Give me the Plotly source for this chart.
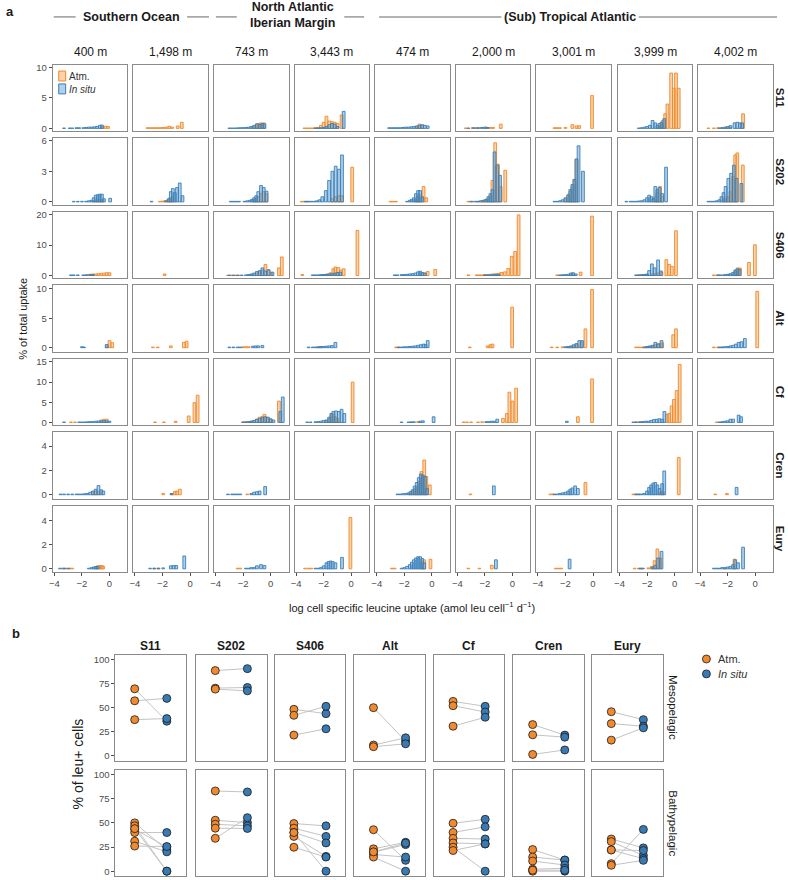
import plotly.graph_objects as go

W, H = 788, 880
FONT = "Liberation Sans, Arial, sans-serif"

DEPTHS = ["400 m", "1,498 m", "743 m", "3,443 m", "474 m", "2,000 m", "3,001 m", "3,999 m", "4,002 m"]
GROUPS = ["S11", "S202", "S406", "Alt", "Cf", "Cren", "Eury"]
REGIONS = ["Southern Ocean", "North Atlantic<br>Iberian Margin", "(Sub) Tropical Atlantic"]
ZONES = ["Mesopelagic", "Bathypelagic"]

# ---- panel a: histograms, [bin centre (log uptake), % of total uptake] per depth column
S11_ATM = [
    [[-0.5, 0.3], [-0.3, 0.35], [-0.1, 0.3]],
    [[-3.1, 0.1], [-2.9, 0.1], [-2.7, 0.1], [-2.5, 0.1], [-2.3, 0.1], [-2.1, 0.12], [-1.9, 0.15], [-1.7, 0.2], [-1.5, 0.35], [-1.3, 0.2], [-0.9, 0.4], [-0.6, 1.0]],
    [[-1.3, 0.3], [-1.1, 0.4], [-0.9, 0.8], [-0.7, 0.9], [-0.5, 0.9]],
    [[-3.4, 0.05], [-3.2, 0.05], [-3.0, 0.05], [-2.8, 0.05], [-2.6, 0.1], [-2.4, 0.15], [-2.2, 0.5], [-2.0, 1.0], [-1.8, 2.0], [-1.6, 1.2], [-1.4, 1.1], [-1.2, 1.0], [-1.0, 0.8], [-0.7, 2.2]],
    [[-1.1, 0.3], [-0.9, 0.7], [-0.7, 0.5]],
    [[-3.4, 0.05], [-2.9, 0.1], [-2.6, 0.1], [-2.3, 0.15], [-1.9, 0.2], [-1.6, 0.15], [-1.4, 0.15], [-0.85, 0.7]],
    [[-2.8, 0.1], [-2.6, 0.1], [-2.4, 0.1], [-2.0, 0.15], [-1.5, 0.6], [-1.2, 0.4], [-1.0, 0.45], [-0.07, 5.4]],
    [[-1.1, 0.3], [-0.95, 0.6], [-0.85, 1.3], [-0.68, 2.4], [-0.52, 4.0], [-0.25, 9.1], [-0.05, 6.6], [0.1, 9.1], [0.3, 6.6]],
    [[-3.4, 0.05], [-3.0, 0.05], [-2.7, 0.1], [-2.4, 0.1], [-2.1, 0.15], [-1.8, 0.2], [-0.88, 2.4]],
]
S11_INSITU = [
    [[-3.3, 0.05], [-2.9, 0.05], [-2.7, 0.05], [-2.4, 0.1], [-2.2, 0.1], [-1.9, 0.1], [-1.7, 0.15], [-1.5, 0.2], [-1.3, 0.2], [-1.1, 0.25], [-0.9, 0.3], [-0.7, 0.5], [-0.55, 0.55]],
    [],
    [[-3.0, 0.05], [-2.8, 0.05], [-2.6, 0.05], [-2.4, 0.08], [-2.2, 0.1], [-2.0, 0.12], [-1.8, 0.15], [-1.6, 0.2], [-1.4, 0.3], [-1.2, 0.5], [-1.0, 0.75], [-0.8, 0.65], [-0.6, 0.8], [-0.45, 0.75]],
    [[-2.6, 0.05], [-2.4, 0.05], [-2.2, 0.1], [-2.0, 0.15], [-1.8, 0.3], [-1.6, 0.6], [-1.4, 0.8], [-1.2, 0.7], [-1.0, 0.3], [-0.55, 2.8]],
    [[-3.1, 0.1], [-2.9, 0.1], [-2.7, 0.1], [-2.5, 0.1], [-2.3, 0.1], [-2.1, 0.15], [-1.9, 0.2], [-1.7, 0.2], [-1.5, 0.25], [-1.3, 0.3], [-1.1, 0.4], [-0.9, 0.5], [-0.7, 0.6], [-0.5, 0.5], [-0.3, 0.4]],
    [[-3.2, 0.05], [-2.8, 0.1], [-2.5, 0.1], [-2.2, 0.15], [-2.0, 0.2], [-1.8, 0.15]],
    [],
    [[-2.6, 0.05], [-2.4, 0.1], [-2.2, 0.2], [-2.0, 0.3], [-1.8, 0.5], [-1.6, 1.3], [-1.4, 0.9], [-1.25, 0.5], [-1.1, 0.8], [-0.95, 1.0], [-0.75, 1.6]],
    [[-2.6, 0.05], [-2.4, 0.1], [-2.2, 0.2], [-2.0, 0.3], [-1.8, 0.45], [-1.5, 0.9], [-1.3, 1.0], [-1.1, 0.9], [-0.95, 0.9]],
]
S202_ATM = [
    [[-1.1, 0.1], [-0.9, 0.2], [-0.7, 0.2], [-0.5, 0.15]],
    [[-2.2, 0.05], [-2.0, 0.08], [-1.8, 0.1], [-1.6, 0.2], [-1.45, 0.4], [-1.3, 0.45]],
    [[-1.2, 0.2], [-1.05, 0.3], [-0.9, 0.5], [-0.7, 0.8], [-0.5, 1.0], [-0.3, 0.8]],
    [[-3.6, 0.05], [-3.4, 0.05], [-3.2, 0.05], [-1.4, 0.3], [-1.15, 0.5], [-0.9, 0.6], [-0.67, 0.6], [0.07, 3.4]],
    [[-3.0, 0.05], [-2.8, 0.05], [-2.6, 0.05], [-1.15, 0.2], [-1.0, 0.5], [-0.85, 0.7], [-0.6, 1.5], [-0.4, 0.4]],
    [[-3.2, 0.05], [-2.9, 0.05], [-2.5, 0.05], [-2.2, 0.1], [-2.0, 0.2], [-1.8, 0.3], [-1.6, 0.6], [-1.45, 2.1], [-1.25, 5.8], [-1.05, 3.7], [-0.85, 1.5], [-0.52, 3.1]],
    [[-2.0, 0.3], [-1.8, 0.6], [-1.65, 1.0], [-1.5, 1.5], [-1.35, 2.2], [-1.2, 4.2]],
    [[-1.4, 0.5], [-1.25, 0.9], [-1.05, 1.5], [-0.9, 0.5]],
    [[-2.2, 0.3], [-2.0, 0.5], [-1.8, 1.0], [-1.6, 2.5], [-1.45, 4.6], [-1.3, 4.8], [-0.9, 3.6]],
]
S202_INSITU = [
    [[-2.6, 0.05], [-2.3, 0.05], [-2.0, 0.05], [-1.7, 0.05], [-1.5, 0.1], [-1.3, 0.15], [-1.15, 0.4], [-1.0, 0.65], [-0.85, 0.7], [-0.7, 0.75], [-0.55, 0.75], [-0.4, 0.3], [0.05, 0.35]],
    [[-2.8, 0.05], [-1.75, 0.1], [-1.55, 0.3], [-1.4, 1.0], [-1.25, 1.3], [-1.1, 0.9], [-0.95, 1.4], [-0.75, 1.85], [-0.55, 0.6]],
    [[-2.9, 0.05], [-2.7, 0.05], [-2.5, 0.05], [-2.3, 0.05], [-1.9, 0.05], [-1.7, 0.1], [-1.5, 0.15], [-1.35, 0.25], [-1.2, 0.4], [-1.05, 0.6], [-0.9, 1.0], [-0.7, 1.6], [-0.5, 1.4], [-0.3, 1.05]],
    [[-3.3, 0.05], [-3.1, 0.05], [-2.9, 0.05], [-2.7, 0.05], [-2.5, 0.1], [-2.3, 0.2], [-2.1, 0.5], [-1.85, 1.1], [-1.61, 2.1], [-1.37, 3.0], [-1.13, 3.5], [-0.89, 3.2], [-0.67, 4.6]],
    [[-1.8, 0.05], [-1.6, 0.15], [-1.45, 0.25], [-1.3, 0.4], [-1.15, 0.8], [-1.0, 1.1], [-0.85, 1.1], [-0.7, 0.5]],
    [[-3.0, 0.05], [-2.7, 0.05], [-2.5, 0.05], [-2.3, 0.1], [-2.1, 0.15], [-1.9, 0.25], [-1.75, 0.5], [-1.6, 0.8], [-1.45, 1.2], [-1.3, 4.9], [-1.1, 3.6], [-0.9, 2.6]],
    [[-2.8, 0.05], [-2.6, 0.05], [-2.4, 0.1], [-2.2, 0.2], [-2.0, 0.4], [-1.8, 0.7], [-1.65, 1.2], [-1.5, 1.7], [-1.35, 2.2], [-1.2, 4.2], [-1.05, 5.5], [-0.73, 3.0]],
    [[-3.5, 0.05], [-3.2, 0.05], [-3.0, 0.05], [-2.8, 0.05], [-2.6, 0.08], [-2.4, 0.1], [-2.2, 0.2], [-2.0, 0.4], [-1.85, 0.65], [-1.7, 0.5], [-1.55, 0.3], [-1.4, 1.5], [-1.25, 1.2], [-1.1, 1.4], [-0.9, 0.8], [-0.62, 3.4]],
    [[-3.4, 0.05], [-3.2, 0.05], [-3.0, 0.05], [-2.8, 0.1], [-2.6, 0.2], [-2.45, 0.5], [-2.3, 0.9], [-2.15, 1.5], [-1.95, 2.3], [-1.75, 2.8], [-1.55, 3.6], [-1.35, 2.3], [-1.0, 1.8]],
]
S406_ATM = [
    [[-1.6, 0.3], [-1.4, 0.4], [-1.2, 0.5], [-1.0, 0.5], [-0.8, 0.6], [-0.6, 0.7], [-0.4, 0.8], [-0.2, 0.9], [0.0, 0.9]],
    [[-1.85, 0.5]],
    [[-3.1, 0.1], [-2.9, 0.1], [-2.7, 0.1], [-2.5, 0.1], [-2.3, 0.1], [-1.6, 0.2], [-1.4, 0.3], [-1.2, 0.5], [-1.0, 0.8], [-0.8, 1.2], [-0.6, 1.8], [-0.38, 3.6], [-0.15, 1.8], [0.05, 1.0], [0.6, 2.5], [0.81, 6.1]],
    [[-3.55, 0.3], [-2.1, 0.2], [-1.9, 0.3], [-1.7, 0.5], [-1.5, 0.9], [-1.3, 2.2], [-1.15, 2.8], [-0.95, 2.6], [-0.75, 1.8], [-0.55, 2.2], [0.45, 14.8]],
    [[-0.7, 0.8], [-0.5, 0.9], [-0.3, 1.3], [0.25, 2.0]],
    [[-3.2, 0.2], [-2.6, 0.2], [-2.4, 0.2], [-2.2, 0.2], [-2.0, 0.3], [-1.8, 0.3], [-1.6, 0.4], [-1.4, 0.5], [-1.2, 0.6], [-1.0, 0.7], [-0.8, 1.0], [-0.55, 1.2], [-0.3, 2.3], [-0.05, 6.3], [0.2, 7.9], [0.45, 19.9]],
    [[-2.6, 0.2], [-2.2, 0.2], [-1.6, 0.3], [-1.4, 0.5], [-0.9, 1.1], [-0.07, 19.5]],
    [[-2.6, 0.2], [-2.2, 0.3], [-2.0, 0.3], [-1.6, 0.5], [-1.4, 0.6], [-1.2, 0.8], [-0.95, 1.1], [-0.6, 5.2], [-0.4, 3.6], [-0.2, 3.0], [0.1, 14.7]],
    [[-3.0, 0.2], [-2.7, 0.2], [-2.3, 0.2], [-1.9, 0.3], [-1.6, 0.5], [-1.4, 1.6], [-1.25, 2.5], [-1.1, 2.4], [-0.45, 4.3], [-0.02, 10.1]],
]
S406_INSITU = [
    [[-2.8, 0.2], [-2.6, 0.2], [-2.3, 0.2], [-1.9, 0.2], [-1.7, 0.2], [-1.4, 0.3], [-1.2, 0.3]],
    [],
    [[-3.0, 0.1], [-2.7, 0.1], [-2.4, 0.1], [-2.1, 0.15], [-1.8, 0.2], [-1.6, 0.3], [-1.4, 0.5], [-1.2, 0.8], [-1.0, 1.3], [-0.8, 1.6], [-0.6, 2.5], [-0.4, 1.5], [-0.15, 1.9], [0.13, 1.1]],
    [[-2.8, 0.2], [-2.6, 0.2], [-2.4, 0.2], [-2.2, 0.3], [-2.0, 0.3], [-1.8, 0.4], [-1.6, 0.5], [-1.4, 0.6], [-1.2, 0.8], [-1.0, 1.0], [-0.8, 1.1]],
    [[-2.7, 0.2], [-2.5, 0.2], [-2.2, 0.3], [-2.0, 0.3], [-1.8, 0.4], [-1.6, 0.5], [-1.4, 0.6], [-1.2, 0.8], [-1.0, 1.2], [-0.85, 1.4], [-0.7, 1.0], [-0.5, 0.7]],
    [[-2.0, 0.2], [-1.8, 0.2], [-1.6, 0.2], [-1.4, 0.3], [-1.2, 0.3], [-1.0, 0.4]],
    [[-2.4, 0.2], [-2.2, 0.2], [-2.0, 0.3], [-1.8, 0.4], [-1.6, 0.8], [-1.45, 0.9], [-1.25, 0.5]],
    [[-2.8, 0.2], [-2.6, 0.2], [-2.4, 0.3], [-2.2, 0.3], [-2.0, 0.5], [-1.85, 1.6], [-1.65, 3.8], [-1.45, 2.5], [-1.2, 5.1], [-1.0, 1.5]],
    [[-2.7, 0.2], [-2.5, 0.2], [-2.2, 0.3], [-2.0, 0.4], [-1.8, 0.6], [-1.6, 1.0], [-1.45, 1.8], [-1.3, 2.2], [-1.15, 2.0]],
]
ALT_ATM = [
    [[-0.2, 0.3], [0.0, 1.2], [0.2, 0.85]],
    [[-2.7, 0.1], [-2.35, 0.1], [-1.4, 0.3], [-0.45, 0.9], [-0.25, 1.1]],
    [[-2.0, 0.15], [-1.8, 0.15], [-1.6, 0.15]],
    [[-2.4, 0.1], [-2.2, 0.15]],
    [[-2.6, 0.1], [-2.45, 0.1]],
    [[-3.1, 0.1], [-1.8, 0.3], [-1.6, 0.5], [-1.45, 0.6], [-0.02, 6.9]],
    [[-3.0, 0.1], [-2.6, 0.1], [-2.2, 0.15], [-1.8, 0.2], [-1.6, 0.2], [-1.4, 0.3], [-1.2, 0.5], [-0.85, 1.0], [-0.55, 3.2], [-0.07, 9.9]],
    [[-2.8, 0.1], [-2.6, 0.1], [-2.4, 0.1], [-2.2, 0.1], [-2.0, 0.2], [-1.8, 0.2], [-1.6, 0.3], [-1.4, 0.5], [-1.15, 0.7], [-0.9, 0.8], [-0.1, 2.2], [0.1, 3.2]],
    [[-3.0, 0.1], [-2.7, 0.1], [-2.4, 0.1], [0.15, 9.6]],
]
ALT_INSITU = [
    [[-2.0, 0.15], [-1.85, 0.1], [-0.2, 0.55]],
    [],
    [[-3.0, 0.1], [-2.7, 0.1], [-2.4, 0.1], [-2.2, 0.1], [-1.3, 0.25], [-1.1, 0.3], [-0.9, 0.3], [-0.6, 0.35]],
    [[-3.1, 0.1], [-2.8, 0.1], [-2.6, 0.1], [-2.4, 0.15], [-2.2, 0.2], [-2.0, 0.2], [-1.8, 0.25], [-1.6, 0.3], [-1.4, 0.35], [-1.15, 0.9]],
    [[-2.4, 0.1], [-2.2, 0.1], [-2.0, 0.15], [-1.8, 0.15], [-1.6, 0.2], [-1.4, 0.25], [-1.2, 0.3], [-1.0, 0.4], [-0.8, 0.5], [-0.6, 0.6], [-0.45, 0.55], [-0.3, 1.2]],
    [],
    [[-2.0, 0.15], [-1.8, 0.2], [-1.6, 0.3], [-1.4, 0.5], [-1.2, 0.7], [-1.0, 1.2], [-0.8, 1.2]],
    [[-2.2, 0.1], [-2.0, 0.2], [-1.8, 0.3], [-1.6, 0.4], [-1.4, 0.9], [-1.2, 0.6], [-0.95, 1.2]],
    [[-2.6, 0.1], [-2.4, 0.1], [-2.2, 0.15], [-2.0, 0.2], [-1.8, 0.3], [-1.6, 0.4], [-1.4, 0.6], [-1.2, 0.9], [-1.0, 1.0], [-0.75, 1.55]],
]
CF_ATM = [
    [[-2.8, 0.1], [-2.5, 0.1], [-0.6, 0.6], [-0.4, 0.8], [-0.2, 0.8]],
    [[-2.55, 0.1], [-1.9, 0.1], [-1.05, 0.3], [-0.1, 1.6], [0.32, 4.9], [0.55, 6.75]],
    [[-2.0, 0.1], [-1.8, 0.15], [-1.6, 0.2], [-1.4, 0.3], [-1.2, 0.5], [-1.0, 0.8], [-0.8, 1.3], [-0.6, 1.5], [-0.45, 2.0], [-0.25, 1.2], [0.0, 0.8], [0.6, 5.3]],
    [[-1.8, 0.5], [-1.6, 1.0], [-1.4, 2.2], [-1.2, 1.5], [-1.0, 1.0], [0.1, 10.0]],
    [[-1.5, 0.1], [-1.0, 0.2]],
    [[-3.55, 0.1], [-3.3, 0.1], [-3.0, 0.1], [-2.5, 0.1], [-2.2, 0.15], [-0.69, 1.0], [-0.41, 2.2], [-0.22, 7.5], [0.0, 5.3], [0.27, 8.5]],
    [[-1.1, 1.4], [-0.07, 10.8]],
    [[-2.8, 0.1], [-2.6, 0.1], [-2.4, 0.1], [-0.55, 2.0], [-0.4, 2.2], [-0.22, 4.1], [-0.05, 5.7], [0.15, 7.9], [0.37, 14.4]],
    [[-2.8, 0.1], [-2.4, 0.1]],
]
CF_INSITU = [
    [[-3.3, 0.1], [-2.2, 0.1], [-2.0, 0.1], [-1.8, 0.1], [-1.6, 0.15], [-1.4, 0.2], [-1.2, 0.2], [-1.0, 0.3], [-0.8, 0.35], [-0.6, 0.4], [-0.4, 0.45], [-0.2, 0.4], [0.0, 0.3]],
    [],
    [[-2.0, 0.1], [-1.8, 0.1], [-1.6, 0.2], [-1.4, 0.3], [-1.2, 0.5], [-1.0, 0.8], [-0.8, 1.0], [-0.6, 1.2], [-0.4, 1.4], [-0.2, 1.3], [0.0, 0.9], [0.2, 0.6], [0.7, 2.7], [0.88, 6.3]],
    [[-3.2, 0.1], [-2.95, 0.1], [-2.6, 0.15], [-2.4, 0.2], [-2.2, 0.3], [-2.0, 0.5], [-1.8, 0.6], [-1.6, 1.3], [-1.45, 2.2], [-1.3, 2.7], [-1.1, 2.85], [-0.9, 2.7], [-0.7, 3.25], [-0.5, 2.2]],
    [[-2.2, 0.1], [-1.7, 0.1], [-1.5, 0.1], [-1.3, 0.15], [-0.85, 0.3], [-0.65, 0.4], [0.13, 1.4]],
    [[-1.9, 0.2], [-1.7, 0.2], [-1.5, 0.3], [-1.3, 0.3], [-1.1, 0.8]],
    [[-1.9, 0.3]],
    [[-3.0, 0.1], [-2.8, 0.1], [-2.5, 0.15], [-2.3, 0.2], [-2.1, 0.3], [-1.9, 0.3], [-1.7, 0.5], [-1.5, 0.7], [-1.3, 0.8], [-1.1, 0.9], [-0.9, 0.8], [-0.74, 2.7]],
    [[-2.6, 0.1], [-2.4, 0.15], [-2.2, 0.3], [-2.0, 0.4], [-1.8, 0.8], [-1.6, 0.8], [-1.2, 1.8], [-1.03, 1.4]],
]
CREN_ATM = [
    [[-1.2, 0.2], [-1.0, 0.3], [-0.8, 0.25]],
    [[-1.95, 0.1], [-1.3, 0.1], [-1.1, 0.27], [-0.95, 0.3], [-0.74, 0.45]],
    [[-1.7, 0.05]],
    [],
    [[-1.6, 0.1], [-1.4, 0.3], [-1.2, 0.5], [-1.05, 0.7], [-0.9, 1.1], [-0.75, 1.9], [-0.55, 2.85], [-0.4, 1.5], [-0.15, 0.8]],
    [[-3.05, 0.05]],
    [[-3.1, 0.05], [-2.9, 0.05], [-0.55, 1.0]],
    [[-3.0, 0.05], [-2.8, 0.05], [-2.6, 0.05], [-1.0, 0.2], [-0.85, 0.25], [0.3, 3.07]],
    [[-2.9, 0.05], [-2.05, 0.1]],
]
CREN_INSITU = [
    [[-3.55, 0.05], [-3.3, 0.05], [-3.0, 0.05], [-2.7, 0.05], [-2.4, 0.05], [-2.2, 0.05], [-2.0, 0.05], [-1.8, 0.08], [-1.6, 0.1], [-1.4, 0.2], [-1.2, 0.3], [-1.0, 0.45], [-0.8, 0.75], [-0.6, 0.4], [-0.45, 0.3]],
    [[-1.35, 0.1]],
    [[-3.1, 0.05], [-2.8, 0.05], [-2.6, 0.05], [-2.4, 0.05], [-2.2, 0.05], [-1.4, 0.1], [-1.2, 0.2], [-1.0, 0.25], [-0.8, 0.3], [-0.4, 0.67]],
    [],
    [[-2.5, 0.05], [-2.3, 0.05], [-2.1, 0.08], [-1.9, 0.1], [-1.7, 0.15], [-1.55, 0.25], [-1.4, 0.4], [-1.25, 0.7], [-1.1, 1.0], [-0.95, 1.4], [-0.8, 1.7], [-0.65, 1.6], [-0.5, 1.5], [-0.35, 0.5]],
    [[-1.35, 0.72]],
    [[-2.8, 0.05], [-2.6, 0.05], [-2.4, 0.1], [-2.2, 0.15], [-2.0, 0.2], [-1.8, 0.3], [-1.65, 0.45], [-1.5, 0.55], [-1.3, 0.72], [-1.1, 0.5]],
    [[-2.8, 0.05], [-2.6, 0.05], [-2.4, 0.05], [-2.2, 0.1], [-2.0, 0.3], [-1.85, 0.6], [-1.7, 0.8], [-1.55, 0.95], [-1.4, 1.0], [-1.25, 0.8], [-1.1, 0.5], [-0.9, 0.9], [-0.75, 1.95]],
    [[-1.35, 0.6]],
]
EURY_ATM = [
    [[-3.4, 0.05], [-3.2, 0.05], [-2.9, 0.05], [-2.7, 0.05], [-1.0, 0.1], [-0.85, 0.25], [-0.7, 0.27], [-0.55, 0.27], [-0.45, 0.2]],
    [[-2.6, 0.05], [-2.3, 0.05]],
    [[-2.4, 0.05], [-2.2, 0.05]],
    [[-3.35, 0.05], [-3.1, 0.05], [-2.9, 0.05], [-0.06, 4.27]],
    [[-2.9, 0.05], [-2.7, 0.05], [-0.7, 0.6], [-0.55, 0.75], [-0.1, 0.8]],
    [[-3.2, 0.05], [-2.4, 0.05], [-1.5, 0.3]],
    [[-2.7, 0.05], [-2.5, 0.05], [-2.3, 0.05]],
    [[-2.9, 0.05], [-2.6, 0.05], [-2.4, 0.05], [-1.9, 0.08], [-1.65, 0.2], [-1.45, 0.67], [-1.25, 1.65], [-1.05, 0.9]],
    [[-2.2, 0.05], [-1.5, 0.8]],
]
EURY_INSITU = [
    [[-3.6, 0.05], [-3.3, 0.05], [-3.0, 0.05], [-1.5, 0.05], [-1.3, 0.1], [-1.15, 0.15], [-1.0, 0.2], [-0.85, 0.2]],
    [[-2.9, 0.05], [-2.6, 0.05], [-2.3, 0.05], [-1.95, 0.08], [-1.4, 0.25], [-1.2, 0.27], [-1.0, 0.27], [-0.42, 1.07]],
    [[-1.8, 0.05], [-1.6, 0.05], [-1.4, 0.1], [-1.2, 0.1], [-1.0, 0.25], [-0.7, 0.35], [-0.45, 0.27]],
    [[-2.6, 0.05], [-2.4, 0.05], [-2.2, 0.1], [-2.0, 0.25], [-1.8, 0.5], [-1.65, 0.6], [-1.5, 0.65], [-1.35, 0.6], [-1.15, 0.5], [-0.67, 0.95]],
    [[-2.2, 0.05], [-2.0, 0.1], [-1.8, 0.2], [-1.6, 0.35], [-1.45, 0.55], [-1.3, 0.75], [-1.15, 0.9], [-1.0, 1.0], [-0.85, 1.0], [-0.7, 0.85], [-0.55, 0.5]],
    [[-1.2, 0.75]],
    [[-1.7, 0.8]],
    [[-2.5, 0.05], [-2.3, 0.05], [-1.6, 0.15], [-1.4, 0.3], [-1.2, 0.9], [-0.95, 1.45]],
    [[-3.0, 0.05], [-2.8, 0.05], [-2.6, 0.05], [-2.4, 0.1], [-2.2, 0.1], [-2.0, 0.15], [-1.8, 0.2], [-1.6, 0.35], [-1.45, 0.75], [-1.25, 0.5], [-0.88, 1.8]],
]

# ---- panel b: % of leu+ cells, paired samples (Atm. vs In situ) per group
MESO_ATM = [[69.5, 57.1, 37.6], [88.4, 70.2, 69.2], [48.3, 42.1, 21.6], [50.0, 11.3, 9.6],
            [56.5, 52.0, 30.8], [32.5, 21.9, 1.6], [45.8, 33.5, 16.4]]
MESO_INSITU = [[36.0, 59.6, 38.7], [90.4, 70.9, 67.4], [43.8, 51.4, 28.1], [15.4, 18.8, 12.6],
               [51.4, 45.5, 40.1], [21.6, 19.5, 6.2], [37.6, 30.8, 29.1]]
BATHY_ATM = [[50, 47, 43.5, 40, 31, 26, 44], [83, 52.7, 48.6, 44.5, 34], [49.3, 44.5, 40.1, 36, 24.8, 40],
             [42.9, 23.1, 19.7, 17.3, 14.6, 20], [49.6, 40.1, 34, 29.2, 24.8, 21.4],
             [22.4, 14.6, 10.5, 2, 0, 1], [33.3, 30.6, 22, 7.8, 6.1, 22]]
BATHY_INSITU = [[22, 0, 25, 40, 20, 25.5, 0], [82, 50.3, 46.9, 44.2, 55.4], [46.9, 36, 29.2, 15.3, 14.6, 0],
                [11.2, 29.9, 27.5, 14.6, 0, 29], [53.7, 45.9, 33.3, 28.2, 0, 28.2],
                [11.5, 11.5, 6.4, 3, 0, 1], [24.1, 16.3, 12.9, 43.2, 11.2, 21.4]]

ATM = [S11_ATM, S202_ATM, S406_ATM, ALT_ATM, CF_ATM, CREN_ATM, EURY_ATM]
INSITU = [S11_INSITU, S202_INSITU, S406_INSITU, ALT_INSITU, CF_INSITU, CREN_INSITU, EURY_INSITU]

# ---- styling / layout geometry (pixels)
ORANGE_LINE, ORANGE_FILL = "#F0892A", "rgba(246,166,88,0.5)"
BLUE_LINE, BLUE_FILL = "#3A7FB8", "rgba(80,148,205,0.45)"
PT_ORANGE, PT_BLUE = "#F08A30", "#3A7AB2"
FRAME = "#8a8a8a"
TICK = "#4d4d4d"

A_LEFT = [49, 130, 211, 292, 373, 454, 535, 617, 698]
A_W = 75
A_TOP = [62, 136, 210, 284, 358, 432, 506]
A_H = 67
A_XRANGE = [-4.12, 1.3]
A_YRANGE = [[-0.45, 10.5], [-0.27, 6.26], [-0.85, 21.0], [-0.67, 10.67], [-0.66, 15.85], [-0.32, 5.15], [-0.27, 5.26]]
A_YTICKS = [[0, 5, 10], [0, 3, 6], [0, 10, 20], [0, 5, 10], [0, 5, 10, 15], [0, 2, 4], [0, 2, 4]]

B_LEFT = [112, 193, 272, 352, 432, 512, 591]
B_W = 71
B_TOP = [656, 772]
B_H = 107


def px(x):
    return x / W


def py(y):
    return 1 - y / H


fig = go.Figure()
layout = {}
ax_n = 0


def new_axes():
    global ax_n
    ax_n += 1
    sfx = "" if ax_n == 1 else str(ax_n)
    return "xaxis" + sfx, "yaxis" + sfx, "x" + sfx, "y" + sfx


base_axis = dict(showgrid=False, zeroline=False, showline=True, mirror=True, linecolor=FRAME,
                 linewidth=1, tickcolor=TICK, ticklen=3, tickwidth=1,
                 tickfont=dict(size=9.5, color=TICK, family=FONT), fixedrange=True)

# panel a
for r in range(7):
    for c in range(9):
        xa, ya, xr, yr = new_axes()
        bottom = r == 6
        first = c == 0
        layout[xa] = dict(base_axis, domain=[px(A_LEFT[c]), px(A_LEFT[c] + A_W)], range=A_XRANGE,
                          anchor=yr, tickvals=[-4, -2, 0], ticktext=["\u22124", "\u22122", "0"],
                          ticks="outside" if bottom else "", showticklabels=bottom)
        layout[ya] = dict(base_axis, domain=[py(A_TOP[r] + A_H), py(A_TOP[r])], range=A_YRANGE[r],
                          anchor=xr, tickvals=A_YTICKS[r], ticks="outside" if first else "",
                          showticklabels=first)
        for data, fill, line in ((ATM[r][c], ORANGE_FILL, ORANGE_LINE), (INSITU[r][c], BLUE_FILL, BLUE_LINE)):
            fig.add_trace(go.Bar(x=[d[0] for d in data], y=[d[1] for d in data], width=0.2,
                                 marker=dict(color=fill, line=dict(color=line, width=0.9)),
                                 xaxis=xr, yaxis=yr, showlegend=False, hoverinfo="skip"))

# panel b
for rb, (atm_rows, ins_rows) in enumerate(((MESO_ATM, MESO_INSITU), (BATHY_ATM, BATHY_INSITU))):
    for cb in range(7):
        xa, ya, xr, yr = new_axes()
        layout[xa] = dict(base_axis, domain=[px(B_LEFT[cb]), px(B_LEFT[cb] + B_W)], range=[0.4, 2.6],
                          anchor=yr, showticklabels=False, ticks="")
        layout[ya] = dict(base_axis, domain=[py(B_TOP[rb] + B_H), py(B_TOP[rb])], range=[-5, 105],
                          anchor=xr, tickvals=[0, 25, 50, 75, 100],
                          ticks="outside" if cb == 0 else "", showticklabels=cb == 0)
        a_vals, i_vals = atm_rows[cb], ins_rows[cb]
        lx, ly = [], []
        for a, b in zip(a_vals, i_vals):
            lx += [1, 2, None]
            ly += [a, b, None]
        fig.add_trace(go.Scatter(x=lx, y=ly, mode="lines", line=dict(color="#c4c4c4", width=1),
                                 xaxis=xr, yaxis=yr, showlegend=False, hoverinfo="skip"))
        for xv, vals, col in ((1, a_vals, PT_ORANGE), (2, i_vals, PT_BLUE)):
            fig.add_trace(go.Scatter(x=[xv] * len(vals), y=vals, mode="markers",
                                     marker=dict(size=8, color=col, line=dict(color="#1a1a1a", width=0.8)),
                                     xaxis=xr, yaxis=yr, showlegend=False, hoverinfo="skip"))

ann = []
shapes = []


def text(x, y, s, size=11, bold=False, angle=0, color="#1a1a1a", xanchor="center"):
    if bold:
        s = "<b>" + s + "</b>"
    ann.append(dict(x=px(x), y=py(y), xref="paper", yref="paper", text=s, showarrow=False,
                    font=dict(size=size, color=color, family=FONT), textangle=angle,
                    xanchor=xanchor, yanchor="middle"))


text(6, 9, "a", 13, bold=True)
text(12, 635, "b", 13, bold=True)

# region headers with rules
text(128, 14, REGIONS[0], 12.5, bold=True)
text(290, 12, REGIONS[1], 12.5, bold=True)
text(569, 14, REGIONS[2], 12.5, bold=True)
for x0, x1 in ((50, 72), (184, 206), (213, 234), (342, 362), (377, 500), (638, 777)):
    shapes.append(dict(type="line", xref="paper", yref="paper", x0=px(x0), x1=px(x1), y0=py(14), y1=py(14),
                       line=dict(color="#9a9a9a", width=1.5)))

for c, d in enumerate(DEPTHS):
    text(A_LEFT[c] + A_W / 2, 49, d, 12)
for r, g in enumerate(GROUPS):
    text(780, A_TOP[r] + A_H / 2, g, 11.5, bold=True, angle=90)

text(19, 318, "% of total uptake", 11, angle=-90)
text(410, 608, "log cell specific leucine uptake (amol leu cell<sup>\u22121</sup> d<sup>\u22121</sup>)", 11)

# legend for panel a
for i, (fill, line, label) in enumerate(((ORANGE_FILL, ORANGE_LINE, "Atm."), (BLUE_FILL, BLUE_LINE, "<i>In situ</i>"))):
    y0 = 68.5 + i * 13
    shapes.append(dict(type="rect", xref="paper", yref="paper", x0=px(55), x1=px(62), y0=py(y0), y1=py(y0 + 10),
                       fillcolor=fill, line=dict(color=line, width=1)))
    text(63, y0 + 5.5, label, 10, xanchor="left", color="#333333")

# panel b labels
for cb, g in enumerate(GROUPS):
    text(B_LEFT[cb] + B_W / 2, 647, g, 12, bold=True)
for rb, z in enumerate(ZONES):
    text(673, B_TOP[rb] + B_H / 2, z, 11.5, angle=90, color="#1a1a1a")
text(74, 766, "% of leu+ cells", 14, angle=-90)

for i, (col, label) in enumerate(((PT_ORANGE, "Atm."), (PT_BLUE, "<i>In situ</i>"))):
    yc = 660.5 + i * 15
    shapes.append(dict(type="circle", xref="paper", yref="paper", x0=px(702), x1=px(710),
                       y0=py(yc - 4), y1=py(yc + 4), fillcolor=col, line=dict(color="#1a1a1a", width=0.8)))
    text(716, yc, label, 11, xanchor="left", color="#333333")

fig.update_layout(layout)
fig.update_layout(width=W, height=H, autosize=False, margin=dict(l=0, r=0, t=0, b=0),
                  paper_bgcolor="white", plot_bgcolor="white", barmode="overlay", bargap=0,
                  annotations=ann, shapes=shapes, showlegend=False,
                  font=dict(family=FONT, color="#1a1a1a"))

fig.write_html("out.html", config={"displayModeBar": False, "staticPlot": True},
               post_script="document.body.style.margin='0';document.body.style.overflow='hidden';")
